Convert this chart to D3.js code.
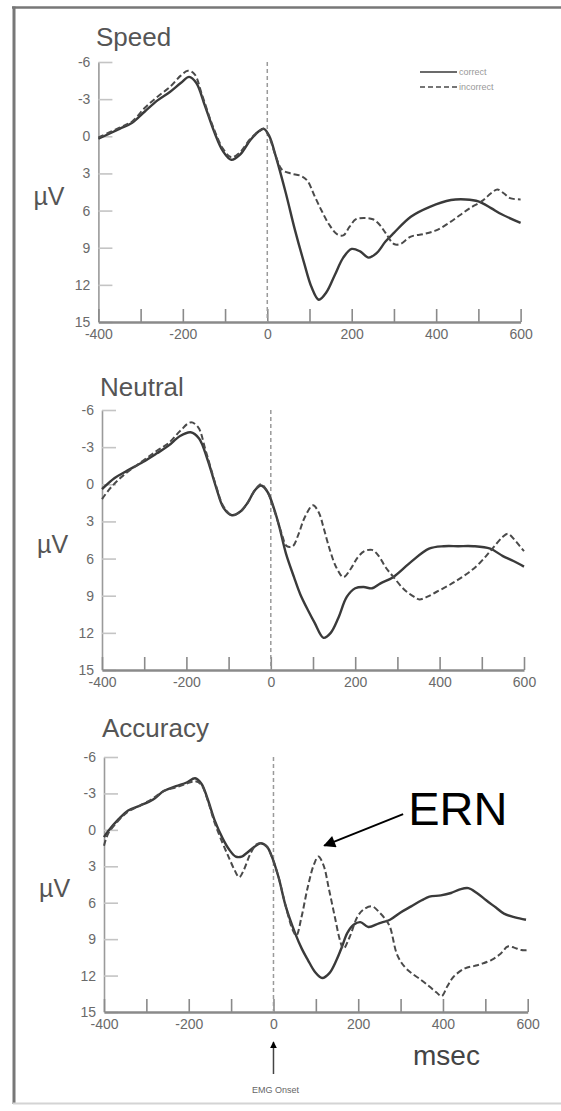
<!DOCTYPE html>
<html>
<head>
<meta charset="utf-8">
<script src="https://cdn.jsdelivr.net/npm/d3@7"></script>
<style>
  html, body { margin: 0; padding: 0; background: #fff; }
  svg { display: block; }
</style>
</head>
<body>
<script>
// Response-locked ERP waveforms (µV, negative up) for three instruction conditions.
const conditions = ["Speed", "Neutral", "Accuracy"];
const seriesNames = ["correct", "incorrect"];
const xTicks = [-400, -300, -200, -100, 0, 100, 200, 300, 400, 500, 600];
const xTickLabels = [-400, -200, 0, 200, 400, 600];
const yTicks = [-6, -3, 0, 3, 6, 9, 12, 15];

// [msec, µV]
const speedCorrect = [[-400,0.2],[-350,-0.6],[-320,-1.1],[-290,-2.0],[-260,-2.9],[-230,-3.6],[-205,-4.3],[-185,-4.8],[-168,-4.3],[-148,-2.5],[-125,-0.3],[-105,1.2],[-85,1.9],[-65,1.5],[-40,0.3],[-20,-0.4],[-8,-0.6],[5,0.0],[20,1.6],[44,4.6],[65,7.5],[87,10.2],[105,12.2],[122,13.2],[140,12.6],[160,11.2],[180,9.8],[200,9.1],[220,9.3],[240,9.8],[260,9.4],[280,8.5],[300,7.8],[340,6.5],[385,5.7],[435,5.15],[470,5.1],[500,5.25],[530,5.8],[555,6.3],[600,7.0]];
const speedIncorrect = [[-400,0.1],[-350,-0.7],[-320,-1.2],[-290,-2.3],[-260,-3.2],[-230,-4.0],[-205,-4.9],[-188,-5.3],[-172,-5.0],[-155,-3.4],[-130,-0.9],[-105,1.0],[-85,1.7],[-65,1.3],[-40,0.2],[-20,-0.4],[-8,-0.6],[5,0.1],[20,1.6],[35,2.7],[55,3.0],[80,3.2],[95,3.6],[113,4.9],[130,6.1],[146,7.1],[165,7.9],[180,8.0],[195,7.3],[210,6.7],[230,6.6],[250,6.7],[265,7.1],[280,7.8],[300,8.7],[315,8.7],[340,8.1],[370,7.9],[400,7.6],[430,7.0],[455,6.4],[480,5.8],[510,5.2],[530,4.6],[545,4.3],[560,4.6],[575,5.0],[600,5.1]];

const neutralCorrect = [[-400,0.4],[-370,-0.5],[-340,-1.1],[-303,-1.8],[-270,-2.5],[-243,-3.1],[-215,-3.9],[-190,-4.2],[-170,-3.7],[-150,-2.0],[-130,0.2],[-112,1.9],[-92,2.5],[-72,2.2],[-55,1.5],[-38,0.5],[-23,0.1],[-8,0.6],[8,2.0],[20,3.4],[36,5.6],[55,7.5],[70,8.9],[90,10.3],[104,11.2],[125,12.4],[142,12.0],[160,10.8],[180,9.1],[200,8.4],[220,8.3],[240,8.4],[260,8.0],[290,7.5],[333,6.25],[375,5.2],[410,5.0],[444,5.0],[480,5.0],[520,5.2],[550,5.8],[575,6.2],[600,6.65]];
const neutralIncorrect = [[-400,1.2],[-380,0.3],[-350,-0.7],[-303,-1.9],[-270,-2.7],[-243,-3.3],[-215,-4.3],[-190,-5.0],[-172,-4.6],[-155,-2.8],[-130,0.1],[-112,1.8],[-92,2.5],[-72,2.2],[-55,1.5],[-38,0.5],[-23,0.0],[-8,0.6],[10,2.3],[25,3.9],[38,5.0],[52,5.0],[66,4.0],[80,2.7],[100,1.7],[114,2.3],[125,3.5],[140,5.3],[155,6.7],[172,7.5],[190,6.8],[206,5.9],[222,5.4],[240,5.3],[256,5.8],[272,6.7],[291,7.5],[316,8.5],[340,9.1],[352,9.3],[370,9.1],[392,8.7],[420,8.2],[444,7.7],[470,7.1],[494,6.4],[515,5.6],[530,5.0],[548,4.3],[562,4.0],[578,4.5],[590,5.0],[600,5.4]];

const accuracyCorrect = [[-400,0.6],[-390,0.1],[-365,-0.9],[-343,-1.6],[-315,-2.0],[-284,-2.5],[-259,-3.2],[-230,-3.6],[-205,-3.9],[-185,-4.25],[-170,-3.8],[-155,-2.5],[-139,-0.8],[-120,0.7],[-105,1.6],[-89,2.2],[-75,2.2],[-63,1.9],[-45,1.4],[-30,1.1],[-15,1.4],[-5,2.1],[12,3.9],[29,6.3],[51,8.5],[67,9.8],[81,10.7],[98,11.7],[115,12.2],[132,11.8],[149,10.7],[162,9.6],[174,8.5],[190,7.8],[205,7.6],[224,8.0],[249,7.7],[275,7.4],[300,6.8],[325,6.3],[350,5.8],[368,5.5],[395,5.4],[419,5.2],[440,4.9],[460,4.8],[480,5.2],[502,5.8],[525,6.4],[544,6.9],[570,7.2],[596,7.4]];
const accuracyIncorrect = [[-400,1.3],[-390,0.3],[-365,-0.8],[-343,-1.5],[-315,-2.0],[-284,-2.6],[-259,-3.2],[-230,-3.5],[-205,-3.8],[-185,-4.0],[-170,-3.7],[-155,-2.4],[-139,-0.6],[-120,1.1],[-105,2.3],[-92,3.3],[-81,3.9],[-70,3.3],[-55,2.0],[-40,1.2],[-28,1.1],[-15,1.4],[-5,2.1],[12,3.9],[29,6.3],[46,8.3],[54,8.7],[66,7.2],[81,4.7],[95,2.9],[106,2.2],[118,2.9],[131,4.9],[145,7.2],[157,9.1],[165,9.8],[180,8.8],[199,7.1],[215,6.5],[233,6.3],[250,6.8],[265,7.4],[275,8.0],[292,10.3],[310,11.3],[326,11.8],[350,12.4],[368,12.9],[385,13.4],[397,13.7],[410,12.9],[425,12.1],[452,11.4],[475,11.2],[494,11.0],[515,10.7],[536,10.2],[553,9.6],[568,9.7],[585,9.9],[600,9.9]];

const seriesByCondition = [
  [speedCorrect, speedIncorrect],
  [neutralCorrect, neutralIncorrect],
  [accuracyCorrect, accuracyIncorrect]
];

// ---- layout ----
const W = 561, H = 1111;
const FONT = "'Liberation Sans', Arial, Helvetica, sans-serif";
const layout = [
  { left: 98.4, right: 520.6, top: 62,  bottom: 322,  titleX: 96,  titleY: 46 },
  { left: 102,  right: 524,   top: 410, bottom: 670,  titleX: 100, titleY: 396 },
  { left: 104,  right: 527.7, top: 757, bottom: 1012, titleX: 102, titleY: 737 }
];
const lineStyle = [
  { stroke: "#3a3a3a", width: 2.4, dash: null },
  { stroke: "#4a4a4a", width: 2.0, dash: "6,3" }
];

const svg = d3.select("body").append("svg")
  .attr("width", W).attr("height", H)
  .attr("viewBox", `0 0 ${W} ${H}`);

svg.append("rect").attr("width", W).attr("height", H).attr("fill", "#fff");

// page frame
svg.append("line").attr("x1", 12).attr("x2", W).attr("y1", 7.5).attr("y2", 7.5)
  .attr("stroke", "#777").attr("stroke-width", 2.5);
svg.append("line").attr("x1", 14).attr("x2", 14).attr("y1", 6.5).attr("y2", 1104)
  .attr("stroke", "#777").attr("stroke-width", 3);
svg.append("line").attr("x1", 13).attr("x2", W).attr("y1", 1103.5).attr("y2", 1103.5)
  .attr("stroke", "#d4d4d4").attr("stroke-width", 2);

const scales = [];

conditions.forEach((name, i) => {
  const L = layout[i];
  const x = d3.scaleLinear().domain([-400, 600]).range([L.left, L.right]);
  const y = d3.scaleLinear().domain([-6, 15]).range([L.top, L.bottom]);
  scales.push({ x, y });
  const g = svg.append("g");

  // condition title
  g.append("text").attr("x", L.titleX).attr("y", L.titleY)
    .attr("font-family", FONT).attr("font-size", 26).attr("fill", "#555")
    .text(name);

  // y axis (ticks point into the plot)
  const yAxis = g.append("g").attr("transform", `translate(${L.left},0)`)
    .call(d3.axisLeft(y).tickValues(yTicks).tickSizeInner(-14).tickSizeOuter(0)
      .tickPadding(8).tickFormat(d => String(d)));
  yAxis.select(".domain").attr("stroke", "#9a9a9a").attr("stroke-width", 1.6);
  yAxis.selectAll(".tick line").attr("stroke", "#c4c4c4").attr("stroke-width", 1.6);
  yAxis.selectAll(".tick text").attr("font-family", FONT).attr("font-size", 14)
    .attr("fill", "#6a6a6a");

  // x axis
  const xAxis = g.append("g").attr("transform", `translate(0,${L.bottom})`)
    .call(d3.axisBottom(x).tickValues(xTicks).tickSizeInner(-13).tickSizeOuter(0)
      .tickPadding(7).tickFormat(d => xTickLabels.includes(d) ? String(d) : ""));
  xAxis.select(".domain").attr("stroke", "#8a8a8a").attr("stroke-width", 2.6);
  xAxis.selectAll(".tick line").attr("stroke", "#8a8a8a").attr("stroke-width", 1.6);
  xAxis.selectAll(".tick text").attr("font-family", FONT).attr("font-size", 14)
    .attr("fill", "#6a6a6a");

  // µV label
  g.append("text").attr("x", L.left - 65).attr("y", y(4.8) + 9)
    .attr("font-family", FONT).attr("font-size", 25).attr("fill", "#555")
    .text("µV");

  // response-onset reference line
  g.append("line").attr("x1", x(0)).attr("x2", x(0))
    .attr("y1", y(-6)).attr("y2", y(15))
    .attr("stroke", "#9a9a9a").attr("stroke-width", 1.5).attr("stroke-dasharray", "4,3");

  // waveforms
  const line = d3.line().x(d => x(d[0])).y(d => y(d[1])).curve(d3.curveCatmullRom.alpha(0.5));
  seriesByCondition[i].forEach((data, k) => {
    const s = lineStyle[k];
    g.append("path").datum(data).attr("d", line)
      .attr("fill", "none").attr("stroke", s.stroke).attr("stroke-width", s.width)
      .attr("stroke-linejoin", "round")
      .attr("stroke-dasharray", s.dash);
  });
});

// legend (Speed panel)
const legend = svg.append("g");
seriesNames.forEach((nm, k) => {
  const s = lineStyle[k];
  const ly = 72 + k * 15;
  legend.append("line").attr("x1", 420).attr("x2", 457).attr("y1", ly).attr("y2", ly)
    .attr("stroke", s.stroke).attr("stroke-width", 1.6).attr("stroke-dasharray", s.dash ? "5,3" : null);
  legend.append("text").attr("x", 459).attr("y", ly + 3)
    .attr("font-family", FONT).attr("font-size", 9).attr("fill", "#999")
    .text(nm);
});

// ERN annotation (Accuracy panel)
const acc = scales[2];
svg.append("defs").append("marker")
  .attr("id", "head").attr("viewBox", "0 0 10 10").attr("refX", 9).attr("refY", 5)
  .attr("markerWidth", 7).attr("markerHeight", 7).attr("markerUnits", "userSpaceOnUse")
  .attr("orient", "auto")
  .append("path").attr("d", "M0,0 L10,5 L0,10 Z").attr("fill", "#000");
svg.select("defs").append("marker")
  .attr("id", "headBig").attr("viewBox", "0 0 10 10").attr("refX", 9).attr("refY", 5)
  .attr("markerWidth", 16).attr("markerHeight", 12).attr("markerUnits", "userSpaceOnUse")
  .attr("orient", "auto")
  .append("path").attr("d", "M0,0 L10,5 L0,10 Z").attr("fill", "#000");

svg.append("line")
  .attr("x1", acc.x(306)).attr("y1", acc.y(-1.3))
  .attr("x2", acc.x(120)).attr("y2", acc.y(1.3))
  .attr("stroke", "#000").attr("stroke-width", 2).attr("marker-end", "url(#headBig)");
svg.append("text").attr("x", acc.x(318)).attr("y", acc.y(-0.4))
  .attr("font-family", FONT).attr("font-size", 47).attr("fill", "#000")
  .text("ERN");

// x-axis title
svg.append("text").attr("x", 413).attr("y", 1065)
  .attr("font-family", FONT).attr("font-size", 28).attr("fill", "#444")
  .text("msec");

// EMG onset marker
svg.append("line").attr("x1", acc.x(0)).attr("x2", acc.x(0))
  .attr("y1", 1074).attr("y2", 1042)
  .attr("stroke", "#444").attr("stroke-width", 1.5).attr("marker-end", "url(#head)");
svg.append("text").attr("x", acc.x(0) + 2).attr("y", 1093).attr("text-anchor", "middle")
  .attr("font-family", FONT).attr("font-size", 9).attr("fill", "#666")
  .text("EMG Onset");
</script>
</body>
</html>
